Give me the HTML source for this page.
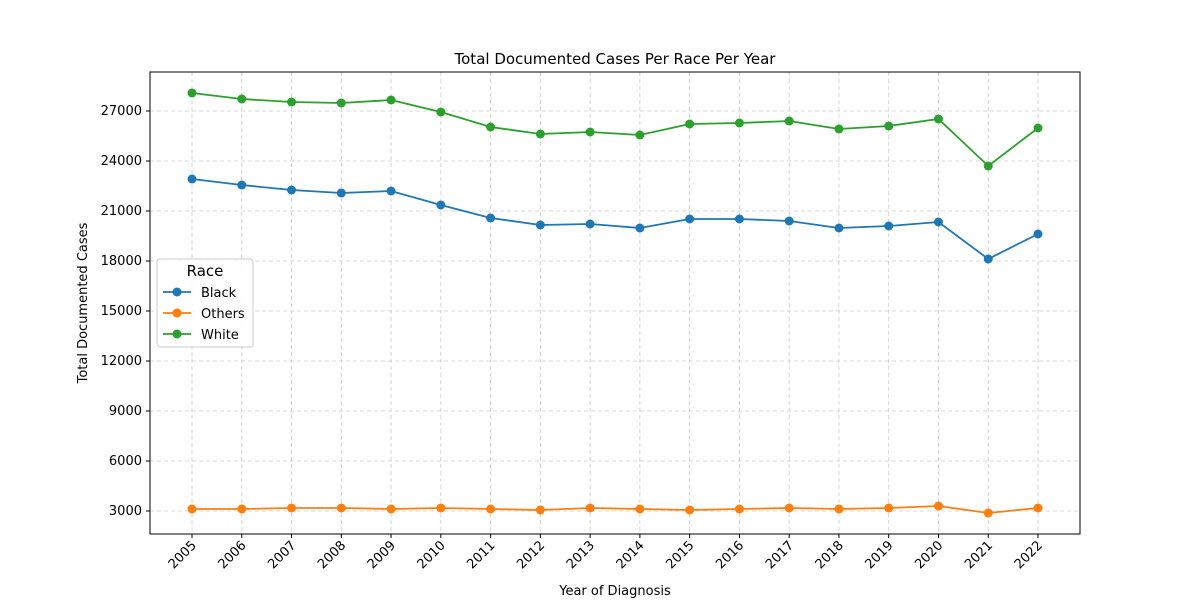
<!DOCTYPE html>
<html><head><meta charset="utf-8"><style>
body{margin:0;background:#fff;font-family:"Liberation Sans","DejaVu Sans",sans-serif}
svg text{font-family:"DejaVu Sans","Liberation Sans",sans-serif}
</style></head><body>
<svg id="chart" width="1200" height="600" xmlns="http://www.w3.org/2000/svg"></svg>
<script>
const years=[2005,2006,2007,2008,2009,2010,2011,2012,2013,2014,2015,2016,2017,2018,2019,2020,2021,2022];
const black=[22920,22560,22260,22080,22200,21360,20580,20160,20220,19980,20520,20520,20400,19980,20100,20340,18120,19620];
const others=[3120,3120,3180,3180,3120,3180,3120,3060,3180,3120,3060,3120,3180,3120,3180,3300,2880,3180];
const white=[28080,27720,27540,27480,27660,26940,26040,25620,25740,25560,26220,26280,26400,25920,26100,26520,23700,25980];
const yTicks=[3000,6000,9000,12000,15000,18000,21000,24000,27000];
const L=150,R=1080,T=72,B=534;
const X=i=>192+i*(1038-192)/(years.length-1);
const Y=v=>511-(v-3000)/60;
const svg=document.getElementById('chart');
const NS='http://www.w3.org/2000/svg';
function mk(tag,attrs,parent){const e=document.createElementNS(NS,tag);for(const k in attrs)e.setAttribute(k,attrs[k]);(parent||svg).appendChild(e);return e;}
// grid
yTicks.forEach(v=>{
 const g=mk('line',{x1:L,x2:R,y1:Y(v),y2:Y(v),stroke:'#ccc','stroke-dasharray':'4,3','stroke-width':0.8});
 
 
 mk('line',{x1:L-4,x2:L,y1:Y(v),y2:Y(v),stroke:'#000'});
 const t=mk('text',{x:L-8,y:Y(v)+4,'text-anchor':'end','font-size':13});
 t.textContent=v;
 
 
});
years.forEach((yr,i)=>{
 const g=mk('line',{x1:X(i),x2:X(i),y1:T,y2:B,stroke:'#ccc','stroke-dasharray':'4,3','stroke-width':0.8});
 
 
 mk('line',{x1:X(i),x2:X(i),y1:B,y2:B+4,stroke:'#000'});
 const t=mk('text',{'text-anchor':'end','font-size':13,transform:`translate(${X(i)+5},${B+12}) rotate(-45)`});
 t.textContent=yr;
 
 
});
const frame=mk('rect',{x:L,y:T,width:R-L,height:B-T,fill:'none',stroke:'#000','stroke-width':1});


const series=[['black',black,'#1f77b4'],['others',others,'#ff7f0e'],['white',white,'#2ca02c']];
series.forEach(([n,d,c])=>{
 const p=mk('polyline',{points:d.map((v,i)=>X(i)+','+Y(v)).join(' '),fill:'none',stroke:c,'stroke-width':1.8});
 
 
 d.forEach((v,i)=>{
  const m=mk('circle',{cx:X(i),cy:Y(v),r:4.5,fill:c});
  
  
 });
});
const title=mk('text',{x:615,y:64,'text-anchor':'middle','font-size':15});
title.textContent='Total Documented Cases Per Race Per Year';


const xt=mk('text',{x:615,y:595,'text-anchor':'middle','font-size':13});
xt.textContent='Year of Diagnosis';


const yt=mk('text',{'text-anchor':'middle','font-size':13,transform:'translate(87,303) rotate(-90)'});
yt.textContent='Total Documented Cases';


// legend
const lg=mk('g',{});


mk('rect',{x:157,y:259,width:96,height:88,rx:3,fill:'#fff','fill-opacity':0.85,stroke:'#ccc'},lg);
const lt=mk('text',{x:205,y:276,'text-anchor':'middle','font-size':15},lg);
lt.textContent='Race';
[['Black','#1f77b4'],['Others','#ff7f0e'],['White','#2ca02c']].forEach(([n,c],i)=>{
 const y=292+i*21;
 const e=mk('g',{},lg);
 
 
 mk('line',{x1:163,x2:191,y1:y,y2:y,stroke:c,'stroke-width':1.8},e);
 mk('circle',{cx:177,cy:y,r:4.5,fill:c},e);
 const t=mk('text',{x:201,y:y+5,'font-size':13},e);
 t.textContent=n;
});
</script>
</body></html>
